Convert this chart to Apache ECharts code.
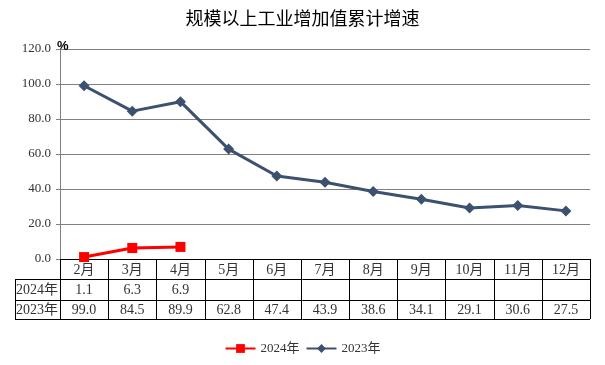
<!DOCTYPE html>
<html><head><meta charset="utf-8">
<script src="https://cdn.jsdelivr.net/npm/echarts@6/dist/echarts.min.js"></script>
<style>html,body{margin:0;padding:0;background:#fff}#c{width:605px;height:365px}</style>
</head><body><div id="c"></div>
<script>
var title = '规模以上工业增加值累计增速';
var months = ['2月','3月','4月','5月','6月','7月','8月','9月','10月','11月','12月'];
var seriesNames = ['2024年','2023年'];
var v2024 = [1.1, 6.3, 6.9];
var v2023 = [99.0, 84.5, 89.9, 62.8, 47.4, 43.9, 38.6, 34.1, 29.1, 30.6, 27.5];
var yTicks = [0, 20, 40, 60, 80, 100, 120];

(function(){
var serif = "'Liberation Serif','Noto Sans CJK SC'";
var chart = echarts.init(document.getElementById('c'), null, {renderer:'canvas'});
var option = {
  animation: false,
  title: {text: title, left: 'center', top: 4,
    textStyle: {fontFamily: "'Noto Sans CJK SC'", fontSize: 18, fontWeight: 'normal', color: '#000'}},
  grid: {left: 60, right: 15, top: 49, bottom: 106, containLabel: false},
  legend: {bottom: 5, left: 'center', itemGap: 6, itemWidth: 30, itemHeight: 11,
    textStyle: {fontFamily: serif, fontSize: 13, color: '#333'},
    data: seriesNames},
  xAxis: {type: 'category', data: months, boundaryGap: true,
    axisLine: {lineStyle: {color: '#000', width: 1}},
    axisTick: {show: false}, axisLabel: {show: false}},
  yAxis: {type: 'value', min: yTicks[0], max: yTicks[yTicks.length-1], interval: 20,
    name: '%', nameLocation: 'end', nameGap: -4,
    nameTextStyle: {align: 'left', fontWeight: 'bold', fontSize: 13, color: '#000', padding: [0,0,0,-3]},
    axisLine: {show: true, lineStyle: {color: '#808080'}},
    axisTick: {show: true, length: 4, lineStyle: {color: '#808080'}},
    splitLine: {lineStyle: {color: '#808080', width: 1}},
    axisLabel: {formatter: function(v){return v.toFixed(1);}, fontFamily: serif, fontSize: 13, color: '#333', margin: 9}},
  series: [
    {name: seriesNames[0], type: 'line', data: v2024, symbol: 'rect', symbolSize: 10,
      lineStyle: {color: '#FF0000', width: 3}, itemStyle: {color: '#FF0000'}, z: 3},
    {name: seriesNames[1], type: 'line', data: v2023, symbol: 'diamond', symbolSize: 11,
      lineStyle: {color: '#3C5070', width: 3}, itemStyle: {color: '#3C5070'}, z: 2}
  ]
};
chart.setOption(option);

var x0 = chart.convertToPixel({xAxisIndex: 0}, 0);
var x1 = chart.convertToPixel({xAxisIndex: 0}, 1);
var w = x1 - x0;
var tLeft = x0 - w/2;
var tRight = tLeft + w * months.length;
var tTop = chart.convertToPixel({yAxisIndex: 0}, 0);
var rowH = [20, 21, 19];
var rowY = [tTop, tTop+rowH[0], tTop+rowH[0]+rowH[1], tTop+rowH[0]+rowH[1]+rowH[2]];
var labelLeft = 15;
var els = [];
function line(xa, ya, xb, yb){
  els.push({type:'line', shape:{x1:xa,y1:ya,x2:xb,y2:yb}, style:{stroke:'#000', lineWidth:1}, silent:true});
}
function txt(s, x, y, align){
  els.push({type:'text', x:x, y:y, style:{text:s, fill:'#333', fontSize:14, fontFamily:serif, align:align||'center', verticalAlign:'middle'}, silent:true});
}
for (var r = 1; r < 4; r++) line(labelLeft, Math.round(rowY[r])+0.5, tRight, Math.round(rowY[r])+0.5);
line(labelLeft+0.5, rowY[1], labelLeft+0.5, rowY[3]);
for (var k = 0; k <= months.length; k++) {
  var xx = Math.round(tLeft + k*w) + 0.5;
  line(xx, rowY[0], xx, rowY[3]);
}
for (var i = 0; i < months.length; i++) {
  var cx = chart.convertToPixel({xAxisIndex: 0}, i);
  txt(months[i], cx, (rowY[0]+rowY[1])/2 + 1);
  if (i < v2024.length) txt(v2024[i].toFixed(1), cx, (rowY[1]+rowY[2])/2 + 1);
  if (i < v2023.length) txt(v2023[i].toFixed(1), cx, (rowY[2]+rowY[3])/2 + 1);
}
txt(seriesNames[0], labelLeft + 1, (rowY[1]+rowY[2])/2 + 1, 'left');
txt(seriesNames[1], labelLeft + 1, (rowY[2]+rowY[3])/2 + 1, 'left');
chart.setOption({graphic: {elements: els}});
})();
</script>
</body></html>
